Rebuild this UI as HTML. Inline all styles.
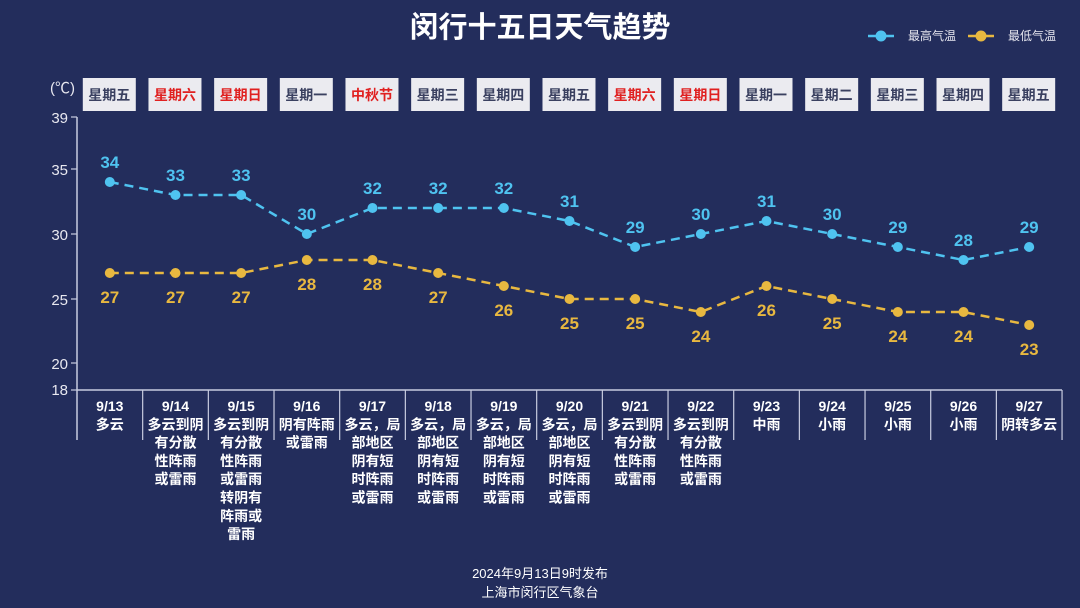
<!DOCTYPE html>
<html><head><meta charset="utf-8"><style>
html,body{margin:0;padding:0;background:#232d5c;}
svg{display:block;font-family:"Liberation Sans","Noto Sans CJK SC",sans-serif;}
</style></head><body>
<svg width="1080" height="608" viewBox="0 0 1080 608" xmlns="http://www.w3.org/2000/svg">
<rect width="1080" height="608" fill="#232d5c"/>
<text x="540" y="37" text-anchor="middle" fill="#fff" font-size="29" font-weight="bold">闵行十五日天气趋势</text>
<g font-size="12" fill="#e8e8f0">
<line x1="868" y1="36" x2="894" y2="36" stroke="#4fc3f0" stroke-width="2.5"/><circle cx="881" cy="36" r="5.5" fill="#4fc3f0"/>
<text x="908" y="40">最高气温</text>
<line x1="968" y1="36" x2="994" y2="36" stroke="#e8b840" stroke-width="2.5"/><circle cx="981" cy="36" r="5.5" fill="#e8b840"/>
<text x="1008" y="40">最低气温</text>
</g>
<text x="50" y="93" fill="#e8e8f0" font-size="15">(℃)</text>
<g id="boxes" font-size="14" font-weight="bold" text-anchor="middle"></g>
<g stroke="#c8cce0" stroke-width="1.5" fill="none">
<line x1="77" y1="117" x2="77" y2="440"/>
<line x1="77" y1="390" x2="1062" y2="390"/>
</g>
<g font-size="15" fill="#e8e8f0" text-anchor="end">
<text x="68" y="123">39</text><text x="68" y="175">35</text><text x="68" y="240">30</text><text x="68" y="305">25</text><text x="68" y="369">20</text><text x="68" y="395">18</text>
</g>
<g stroke="#c8cce0" stroke-width="1.2">
<line x1="71" y1="117" x2="77" y2="117"/><line x1="71" y1="169" x2="77" y2="169"/><line x1="71" y1="234" x2="77" y2="234"/><line x1="71" y1="299" x2="77" y2="299"/><line x1="71" y1="363" x2="77" y2="363"/><line x1="71" y1="390" x2="77" y2="390"/>
</g>
<g id="ticks" stroke="#c8cce0" stroke-width="1.2"></g>
<g id="series"></g>
<g id="xl" font-size="14" font-weight="bold" fill="#fff" text-anchor="middle"></g>
<text x="540" y="578" text-anchor="middle" fill="#fff" font-size="13">2024年9月13日9时发布</text>
<text x="540" y="597" text-anchor="middle" fill="#fff" font-size="13">上海市闵行区气象台</text>
<script>
var NS="http://www.w3.org/2000/svg";
function el(p,t,a,txt){var e=document.createElementNS(NS,t);for(var k in a)e.setAttribute(k,a[k]);if(txt!=null)e.textContent=txt;p.appendChild(e);return e;}
var X=[];for(var i=0;i<15;i++)X.push(109.8+65.67*i);
function Y(t){return 117+(39-t)*13;}
var wd=["星期五","星期六","星期日","星期一","中秋节","星期三","星期四","星期五","星期六","星期日","星期一","星期二","星期三","星期四","星期五"];
var red=[0,1,1,0,1,0,0,0,1,1,0,0,0,0,0];
var b=document.getElementById("boxes");
for(var i=0;i<15;i++){el(b,"rect",{x:X[i]-27,y:78,width:53,height:33,fill:"#ebebf0"});
el(b,"text",{x:X[i]-0.5,y:100,fill:red[i]?"#e02020":"#3a4060"},wd[i]);}
var tk=document.getElementById("ticks");
for(var i=1;i<=15;i++){var x=77+65.67*i;el(tk,"line",{x1:x,y1:390,x2:x,y2:440});}
var hi=[34,33,33,30,32,32,32,31,29,30,31,30,29,28,29];
var lo=[27,27,27,28,28,27,26,25,25,24,26,25,24,24,23];
var s=document.getElementById("series");
function series(d,c,off){var pts=d.map(function(t,i){return X[i]+","+Y(t);}).join(" ");
el(s,"polyline",{points:pts,fill:"none",stroke:c,"stroke-width":2.5,"stroke-dasharray":"9,6"});
d.forEach(function(t,i){el(s,"circle",{cx:X[i],cy:Y(t),r:5,fill:c});
el(s,"text",{x:X[i],y:Y(t)+off,fill:c,"font-size":17,"font-weight":"bold","text-anchor":"middle"},t);});}
series(hi,"#4fc3f0",-14);series(lo,"#e8b840",30);
var A=["多云到阴","有分散","性阵雨","或雷雨"],B=["多云，局","部地区","阴有短","时阵雨","或雷雨"];
var W=[["多云"],A,A.concat(["转阴有","阵雨或","雷雨"]),["阴有阵雨","或雷雨"],B,B,B,B,A,A,["中雨"],["小雨"],["小雨"],["小雨"],["阴转多云"]];
var xl=document.getElementById("xl");
for(var i=0;i<15;i++){var lines=["9/"+(13+i)].concat(W[i]);
lines.forEach(function(l,j){el(xl,"text",{x:X[i],y:411+j*18.3},l);});}
</script>
</svg>
</body></html>
